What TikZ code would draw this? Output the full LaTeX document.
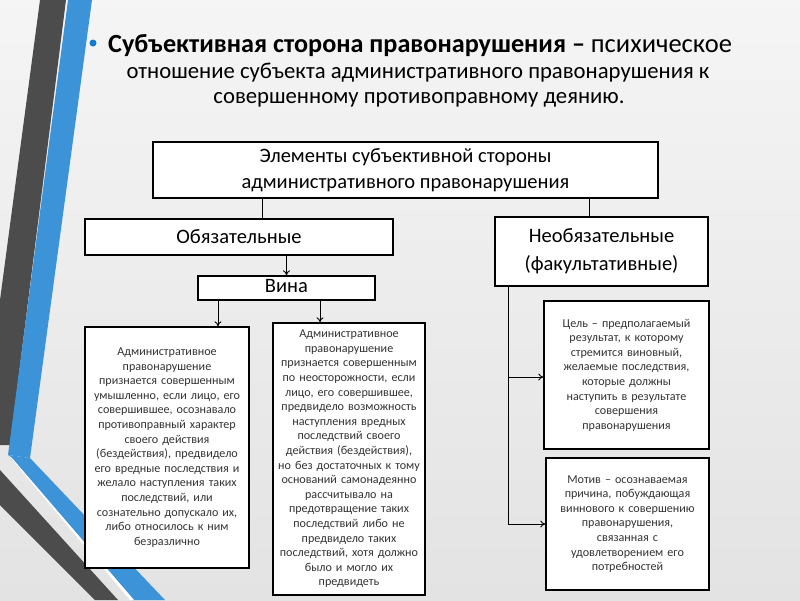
\documentclass[tikz,border=0pt]{standalone}
\usepackage{fontspec}
\setmainfont{Carlito}
\usetikzlibrary{arrows.meta}
\begin{document}
\begin{tikzpicture}[x=1pt,y=-1pt,
  box/.style={draw=black,line width=1.3pt,fill=white,inner sep=0pt,align=center},
  small/.style={box,font=\fontsize{12.1}{14.6}\selectfont,text=black!80},
  conn/.style={line width=0.9pt},
  arr/.style={conn,-{To[length=5pt,width=7pt]}}]
\useasboundingbox (0,0) rectangle (800,600);
\shade[top color=gray!8,bottom color=gray!22] (0,0) rectangle (800,600);
% decorative stripes
\fill[black!70] (40,0) -- (66,0) -- (10,445) -- (0,445) -- (0,300) -- cycle;
\fill[cyan!65!blue!80] (68,0) -- (92,0) -- (30,458) -- (8,455) -- cycle;
\fill[cyan!65!blue!80] (8,455) -- (30,458) -- (165,600) -- (132,600) -- cycle;
\fill[white] (8,455) -- (12,458) -- (134,600) -- (130,600) -- cycle;
\fill[black!70] (0,470) -- (118,600) -- (95,600) -- (0,505) -- cycle;
% title
\fill[cyan!60!blue] (93,43) circle (3.5);
\node[anchor=west,font=\fontsize{26.2}{30}\selectfont,inner sep=0pt] (t1) at (108,46) {\textbf{Субъективная сторона правонарушения –} {\fontsize{26.5}{30}\selectfont психическое}};
\node[font=\fontsize{22.7}{28}\selectfont] (t2) at (418,73) {отношение субъекта административного правонарушения к};
\node[font=\fontsize{22.7}{28}\selectfont] (t3) at (419,100) {совершенному противоправному деянию.};
% boxes
\node[box,minimum width=505,minimum height=56,font=\fontsize{20.5}{26}\selectfont] (top) at (405.5,170) {Элементы субъективной стороны\\административного правонарушения};
\node[box,minimum width=308,minimum height=36,font=\fontsize{20.5}{24}\selectfont] (obl) at (239,237) {Обязательные};
\node[box,minimum width=213,minimum height=69,font=\fontsize{20.5}{28}\selectfont] (neob) at (601.5,251.5) {Необязательные\\(факультативные)};
\node[box,minimum width=177,minimum height=24,text height=13,text depth=4,font=\fontsize{20.5}{24}\selectfont] (vina) at (286.5,288) {Вина};
\node[small,minimum width=164,minimum height=241,text width=160] (b1) at (167,447.5) {Административное\\правонарушение\\признается совершенным\\умышленно, если лицо, его\\совершившее, осознавало\\противоправный характер\\своего действия\\(бездействия), предвидело\\его вредные последствия и\\желало наступления таких\\последствий, или\\сознательно допускало их,\\либо относилось к ним\\безразлично};
\node[small,minimum width=152,minimum height=272,text width=150] (b2) at (349,459) {Административное\\правонарушение\\признается совершенным\\по неосторожности, если\\лицо, его совершившее,\\предвидело возможность\\наступления вредных\\последствий своего\\действия (бездействия),\\но без достаточных к тому\\оснований самонадеянно\\рассчитывало на\\предотвращение таких\\последствий либо не\\предвидело таких\\последствий, хотя должно\\было и могло их\\предвидеть};
\node[small,minimum width=165,minimum height=148,text width=160] (c1) at (626.5,375) {Цель – предполагаемый\\результат, к которому\\стремится виновный,\\желаемые последствия,\\которые должны\\наступить в результате\\совершения\\правонарушения};
\node[small,minimum width=163,minimum height=132,text width=160] (c2) at (627.5,524) {Мотив – осознаваемая\\причина, побуждающая\\виннового к совершению\\правонарушения,\\связанная с\\удовлетворением его\\потребностей};
% connectors
\draw[conn] (262,198) coordinate (a1) -- (a1 |- obl.north);
\draw[conn] (589,198) coordinate (a2) -- (a2 |- neob.north);
\draw[arr] (obl.south -| vina.north) -- (vina.north);
\draw[arr] (218,300) coordinate (v1) -- (v1 |- b1.north);
\draw[arr] (320,300) coordinate (v2) -- (v2 |- b2.north);
\coordinate (n0) at (508,286);
\coordinate (n1) at (508,377);
\coordinate (n2) at (508,524);
\draw[conn] (n0) -- (n2);
\draw[arr] (n1) -- (n1 -| c1.west);
\draw[arr] (n2) -- (n2 -| c2.west);
\end{tikzpicture}
\end{document}
